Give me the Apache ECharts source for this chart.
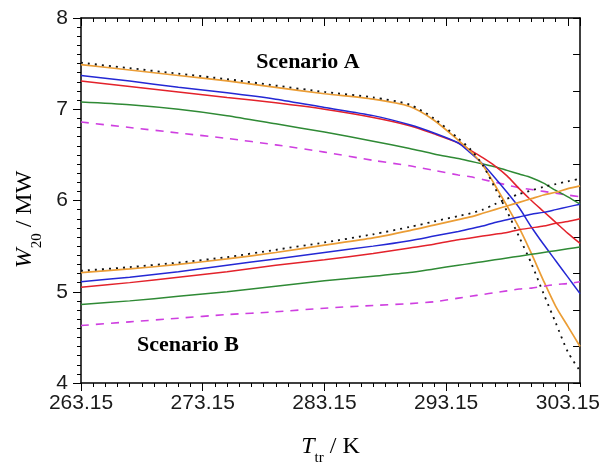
<!DOCTYPE html>
<html>
<head>
<meta charset="utf-8">
<script src="https://cdn.jsdelivr.net/npm/echarts@6/dist/echarts.min.js"></script>
<style>
  html, body { margin: 0; padding: 0; background: #fff; }
  #chart { width: 603px; height: 471px; }
</style>
</head>
<body>
<div id="chart"></div>
<script>
var dom = document.getElementById("chart");

// transcritical temperature, K
var temps = [263.15, 267.15, 271.15, 275.15, 279.15, 283.15, 287.15, 290.15, 292.15, 294.15,
             295.15, 296.15, 297.15, 298.15, 299.15, 300.15, 301.15, 302.15, 303.15, 304.15];

// scenario A (falling curves), MW
var dottedA  = [7.51, 7.45, 7.39, 7.33, 7.26, 7.19, 7.13, 7.05, 6.90, 6.68, 6.56, 6.39, 6.14, 5.88, 5.60, 5.31, 4.98, 4.66, 4.34, 4.13];
var orangeA  = [7.49, 7.43, 7.37, 7.31, 7.24, 7.17, 7.11, 7.03, 6.88, 6.66, 6.54, 6.39, 6.17, 5.94, 5.70, 5.42, 5.12, 4.84, 4.62, 4.40];
var blueA    = [7.37, 7.31, 7.24, 7.18, 7.11, 7.02, 6.93, 6.83, 6.74, 6.63, 6.52, 6.40, 6.25, 6.09, 5.92, 5.71, 5.52, 5.34, 5.16, 4.98];
var redA     = [7.31, 7.25, 7.19, 7.13, 7.07, 7.00, 6.91, 6.82, 6.73, 6.63, 6.55, 6.47, 6.38, 6.27, 6.13, 6.00, 5.88, 5.76, 5.64, 5.53];
var greenA   = [7.08, 7.05, 7.00, 6.93, 6.84, 6.75, 6.65, 6.57, 6.51, 6.46, 6.43, 6.40, 6.37, 6.33, 6.29, 6.25, 6.19, 6.11, 6.04, 5.96];
var magentaA = [6.86, 6.80, 6.74, 6.68, 6.61, 6.53, 6.44, 6.38, 6.33, 6.28, 6.26, 6.23, 6.20, 6.17, 6.14, 6.12, 6.10, 6.08, 6.06, 6.04];

// scenario B (rising curves), MW
var dottedB  = [5.23, 5.27, 5.32, 5.38, 5.46, 5.54, 5.63, 5.71, 5.77, 5.83, 5.86, 5.90, 5.96, 6.02, 6.07, 6.11, 6.15, 6.18, 6.21, 6.24];
var orangeB  = [5.21, 5.25, 5.30, 5.36, 5.43, 5.51, 5.59, 5.67, 5.73, 5.79, 5.82, 5.86, 5.90, 5.94, 5.98, 6.02, 6.06, 6.09, 6.13, 6.16];
var blueB    = [5.11, 5.16, 5.22, 5.29, 5.36, 5.43, 5.50, 5.56, 5.61, 5.66, 5.69, 5.72, 5.76, 5.79, 5.82, 5.85, 5.87, 5.90, 5.93, 5.96];
var redB     = [5.05, 5.10, 5.16, 5.22, 5.29, 5.35, 5.42, 5.48, 5.52, 5.57, 5.59, 5.61, 5.63, 5.65, 5.68, 5.70, 5.72, 5.75, 5.77, 5.80];
var greenB   = [4.86, 4.90, 4.95, 5.00, 5.06, 5.12, 5.17, 5.21, 5.25, 5.29, 5.31, 5.33, 5.35, 5.37, 5.39, 5.41, 5.43, 5.45, 5.47, 5.49];
var magentaB = [4.63, 4.67, 4.71, 4.75, 4.78, 4.82, 4.85, 4.87, 4.89, 4.93, 4.95, 4.97, 4.99, 5.01, 5.03, 5.04, 5.06, 5.08, 5.09, 5.11];

var xMin = 263.15, xMax = 304.15;
var serif = '"Liberation Serif", "Times New Roman", serif';
var sans = '"Liberation Sans", Arial, sans-serif';

function pairs(vals) {
    return temps.map(function (t, i) { return [t, vals[i]]; });
}

function line(vals, color, type, width) {
    return {
        type: 'line',
        data: pairs(vals),
        symbol: 'none',
        smooth: 0.25,
        silent: true,
        lineStyle: { color: color, width: width || 1.5, type: type || 'solid' }
    };
}

var dots = [2, 5];
var dash = [8, 7];

// helper for the extra tick-only axes
function tickAxis(pos, interval, len, inside) {
    return {
        type: 'value', position: pos, min: xMin, max: xMax, interval: interval,
        axisLine: { show: false },
        axisTick: { show: true, inside: inside, length: len, lineStyle: { color: '#000', width: 1 } },
        axisLabel: { show: false },
        splitLine: { show: false }
    };
}

var option = {
    animation: false,
    grid: { left: 81, right: 20, top: 18, bottom: 83 },
    xAxis: [
        {
            type: 'value', position: 'bottom', min: xMin, max: xMax, interval: 10,
            name: '{t|T}{s|tr}{n| / K}',
            nameLocation: 'middle',
            nameGap: 45,
            nameTextStyle: {
                rich: {
                    t: { fontFamily: serif, fontStyle: 'italic', fontSize: 24, lineHeight: 38, color: '#000' },
                    s: { fontFamily: serif, fontSize: 15, lineHeight: 15, verticalAlign: 'bottom', color: '#000' },
                    n: { fontFamily: serif, fontSize: 24, lineHeight: 38, color: '#000' }
                }
            },
            axisLine: { show: true, lineStyle: { color: '#000', width: 1.5 } },
            axisTick: { show: true, inside: false, length: 8, lineStyle: { color: '#000', width: 1 } },
            axisLabel: {
                fontFamily: sans, fontSize: 21, color: '#1a1a1a', margin: 10,
                showMaxLabel: false,
                formatter: function (v) { return v.toFixed(2); }
            },
            splitLine: { show: false }
        },
        tickAxis('bottom', 1, 4, false),
        {
            type: 'value', position: 'top', min: xMin, max: xMax, interval: 10,
            axisLine: { show: true, lineStyle: { color: '#000', width: 1.5 } },
            axisTick: { show: true, inside: true, length: 8, lineStyle: { color: '#000', width: 1 } },
            axisLabel: { show: false },
            splitLine: { show: false }
        },
        tickAxis('top', 1, 4, true)
    ],
    yAxis: [
        {
            type: 'value', position: 'left', min: 4, max: 8, interval: 1,
            name: '{w|W}{s|20}{n| / MW}',
            nameLocation: 'middle',
            nameGap: 36,
            nameTextStyle: {
                rich: {
                    w: { fontFamily: serif, fontStyle: 'italic', fontSize: 24, lineHeight: 40, color: '#000' },
                    s: { fontFamily: serif, fontSize: 15, lineHeight: 15, verticalAlign: 'bottom', color: '#000' },
                    n: { fontFamily: serif, fontSize: 24, lineHeight: 40, color: '#000', padding: [0, 38, 0, 0] }
                }
            },
            axisLine: { show: true, lineStyle: { color: '#000', width: 1.5 } },
            axisTick: { show: true, inside: false, length: 8, lineStyle: { color: '#000', width: 1 } },
            minorTick: { show: true, splitNumber: 10, length: 4, lineStyle: { color: '#000', width: 1 } },
            axisLabel: { fontFamily: sans, fontSize: 21, color: '#1a1a1a', margin: 13 },
            splitLine: { show: false }
        },
        {
            type: 'value', position: 'right', min: 4, max: 8, interval: 0.4,
            axisLine: { show: true, lineStyle: { color: '#000', width: 1.5 } },
            axisTick: { show: true, inside: true, length: 7, lineStyle: { color: '#000', width: 1 } },
            axisLabel: { show: false },
            splitLine: { show: false }
        }
    ],
    graphic: [
        {
            type: 'text', x: 308, y: 62, silent: true,
            style: { text: 'Scenario A', font: 'bold 22px ' + serif, fill: '#000',
                     textAlign: 'center', textVerticalAlign: 'middle' }
        },
        {
            type: 'text', x: 188, y: 345, silent: true,
            style: { text: 'Scenario B', font: 'bold 22px ' + serif, fill: '#000',
                     textAlign: 'center', textVerticalAlign: 'middle' }
        }
    ],
    series: [
        line(magentaA, '#cf3fe0', dash, 1.6),
        line(greenA, '#2f8a35'),
        line(redA, '#e3222b'),
        line(blueA, '#2428d4'),
        line(orangeA, '#eb9d35', 'solid', 1.7),
        line(dottedA, '#111', dots, 1.8),
        line(magentaB, '#cf3fe0', dash, 1.6),
        line(greenB, '#2f8a35'),
        line(redB, '#e3222b'),
        line(blueB, '#2428d4'),
        line(orangeB, '#eb9d35', 'solid', 1.7),
        line(dottedB, '#111', dots, 1.8)
    ]
};

var chart = echarts.init(dom);
chart.setOption(option, true);
</script>
</body>
</html>
